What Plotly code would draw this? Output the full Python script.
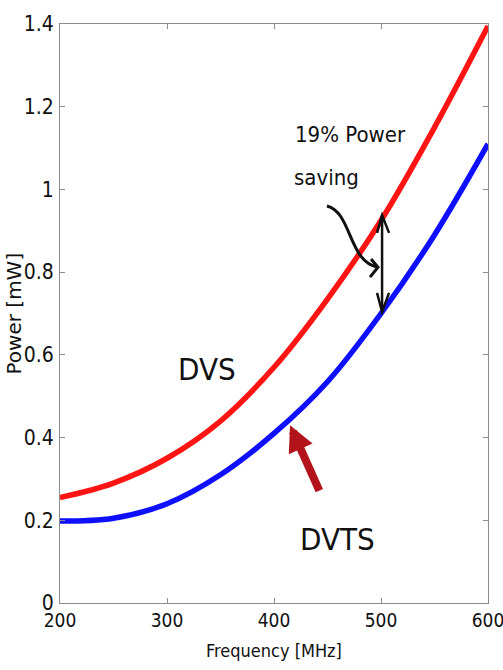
import plotly.graph_objects as go

freq = [200, 250, 300, 350, 400, 450, 500, 550, 600]
dvs_power = [0.255, 0.29, 0.35, 0.44, 0.57, 0.735, 0.925, 1.15, 1.395]
dvts_power = [0.198, 0.205, 0.24, 0.31, 0.41, 0.535, 0.70, 0.89, 1.11]

x_ticks = [200, 300, 400, 500, 600]
y_ticks = [0, 0.2, 0.4, 0.6, 0.8, 1.0, 1.2, 1.4]
y_tick_text = ["0", "0.2", "0.4", "0.6", "0.8", "1", "1.2", "1.4"]

NARROW = "DejaVu Sans Condensed, Liberation Sans Narrow, Roboto Condensed, Arial Narrow, Liberation Sans, sans-serif"

fig = go.Figure()
fig.add_trace(go.Scatter(x=freq, y=dvs_power, mode="lines", line=dict(color="#ff1414", width=5.5, shape="spline"), name="DVS"))
fig.add_trace(go.Scatter(x=freq, y=dvts_power, mode="lines", line=dict(color="#0f0fff", width=5.5, shape="spline"), name="DVTS"))

axis_common = dict(showgrid=False, zeroline=False, showline=True, linecolor="#8c8c8c", linewidth=1,
                   mirror="ticks", ticks="inside", ticklen=5, tickcolor="#8c8c8c", automargin=False,
                   ticklabeloverflow="allow")

fig.update_xaxes(range=[200, 600], tickvals=x_ticks, ticktext=[str(v) for v in x_ticks],
                 tickfont=dict(family=NARROW, size=19, color="#111"), **axis_common)
fig.update_yaxes(range=[0, 1.4], tickvals=y_ticks, ticktext=y_tick_text, ticklabelstandoff=1,
                 tickfont=dict(family=NARROW, size=21, color="#111"), **axis_common)

# axis titles
fig.add_annotation(x=0.5, y=0, xref="paper", yref="paper", yshift=-47, text="Frequency [MHz]",
                   showarrow=False, xanchor="center", yanchor="middle",
                   font=dict(family=NARROW, size=18, color="#111"))
fig.add_annotation(x=0, y=0.5, xref="paper", yref="paper", xshift=-47, text="Power [mW]",
                   showarrow=False, xanchor="center", yanchor="middle", textangle=-90,
                   font=dict(family="DejaVu Sans", size=20, color="#111"))

# text annotations
fig.add_annotation(x=417.8, y=1.132, text="19% Power", showarrow=False, xanchor="left", yanchor="middle",
                   font=dict(family=NARROW, size=22, color="#111"))
fig.add_annotation(x=417.0, y=1.03, text="saving", showarrow=False, xanchor="left", yanchor="middle",
                   font=dict(family=NARROW, size=22, color="#111"))
fig.add_annotation(x=337.4, y=0.565, text="DVS", showarrow=False, xanchor="center", yanchor="middle",
                   font=dict(family=NARROW, size=31, color="#111"))
fig.add_annotation(x=458.9, y=0.154, text="DVTS", showarrow=False, xanchor="center", yanchor="middle",
                   font=dict(family=NARROW, size=31, color="#111"))

# dark red arrow pointing to DVTS curve
fig.add_annotation(x=415, y=0.43, ax=443, ay=0.268, axref="x", ayref="y", xref="x", yref="y",
                   text="", showarrow=True, arrowhead=2, arrowsize=0.65, arrowwidth=8, arrowcolor="#b3141b")

# curved arrow
fig.add_shape(type="path", xref="x", yref="y",
              path="M 449.5,0.960 C 472.9,0.945 469.2,0.825 497.2,0.812",
              line=dict(color="#111", width=3))
fig.add_shape(type="path", xref="x", yref="y",
              path="M 490.7,0.832 L 497.2,0.812 L 489.7,0.788",
              line=dict(color="#111", width=3))
# double arrow
fig.add_shape(type="line", xref="x", yref="y", x0=501, y0=0.938, x1=501, y1=0.704,
              line=dict(color="#111", width=2.5))
fig.add_shape(type="path", xref="x", yref="y",
              path="M 496.3,0.895 L 501,0.938 L 507.5,0.895",
              line=dict(color="#111", width=2.5))
fig.add_shape(type="path", xref="x", yref="y",
              path="M 496.3,0.750 L 501,0.704 L 507.5,0.750",
              line=dict(color="#111", width=2.5))

fig.update_layout(width=503, height=670, margin=dict(l=60, r=15, t=24, b=67),
                  plot_bgcolor="white", paper_bgcolor="white", showlegend=False)

fig.write_html("out.html", config={"displayModeBar": False},
               post_script="document.body.style.margin='0';document.body.style.overflow='hidden';")
